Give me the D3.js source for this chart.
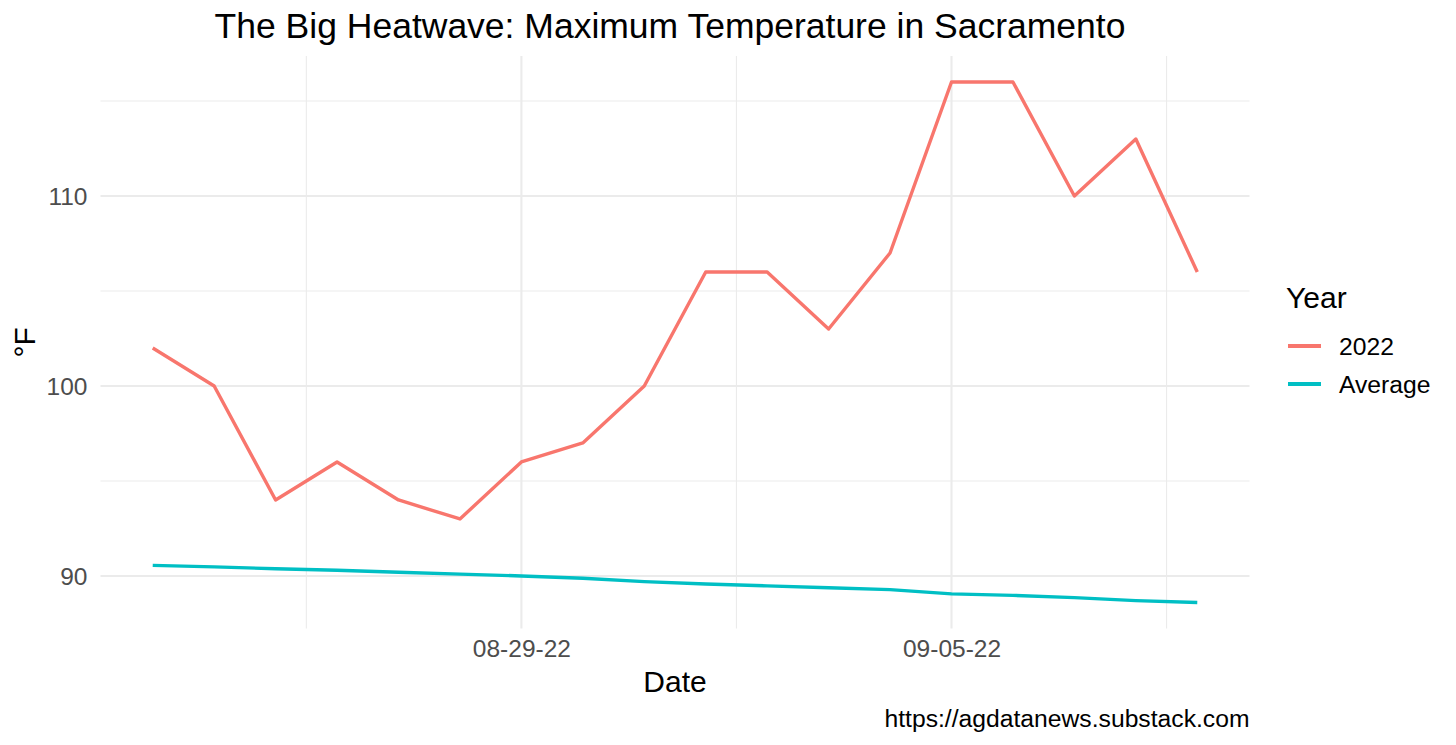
<!DOCTYPE html>
<html>
<head>
<meta charset="utf-8">
<script src="https://cdn.jsdelivr.net/npm/d3@7"></script>
<style>
  html, body { margin: 0; padding: 0; background: #fff; }
  svg { display: block; font-family: "Liberation Sans", Arial, sans-serif; }
</style>
</head>
<body>
<svg id="chart" width="1456" height="745"></svg>
<script>
const dates = ["2022-08-23","2022-08-24","2022-08-25","2022-08-26","2022-08-27","2022-08-28",
  "2022-08-29","2022-08-30","2022-08-31","2022-09-01","2022-09-02","2022-09-03",
  "2022-09-04","2022-09-05","2022-09-06","2022-09-07","2022-09-08","2022-09-09"];
const temps2022 = [102,100,94,96,94,93,96,97,100,106,106,103,107,116,116,110,113,106];
const tempsAverage = [90.56,90.48,90.38,90.3,90.2,90.1,90.0,89.88,89.7,89.58,89.48,89.38,89.28,89.06,88.98,88.86,88.7,88.6];
const seriesNames = ["2022","Average"];
const seriesColors = ["#F8766D","#00BFC4"];
const yMajorTicks = [90,100,110];
const yMinorTicks = [95,105,115];
const xMajorTicks = ["2022-08-29","2022-09-05"];
const xMinorTicks = ["2022-08-25T12:00","2022-09-01T12:00","2022-09-08T12:00"];

const parse = s => new Date(s + (s.length === 10 ? "T00:00" : ""));
const fmt = d3.timeFormat("%m-%d-%y");

const svg = d3.select("#chart");
const panel = {left: 100.5, right: 1249.5, top: 56, bottom: 628.6};

const xd = d3.extent(dates, parse);
const xspan = xd[1] - xd[0];
const x = d3.scaleTime()
  .domain([new Date(+xd[0] - 0.05 * xspan), new Date(+xd[1] + 0.05 * xspan)])
  .range([panel.left, panel.right]);

const allY = temps2022.concat(tempsAverage);
const ymin = d3.min(allY), ymax = d3.max(allY), yspan = ymax - ymin;
const y = d3.scaleLinear()
  .domain([ymin - 0.05 * yspan, ymax + 0.05 * yspan])
  .range([panel.bottom, panel.top]);

const grid = svg.append("g");
// minor grid
grid.selectAll(".ymin").data(yMinorTicks).enter().append("line")
  .attr("x1", panel.left).attr("x2", panel.right)
  .attr("y1", d => y(d)).attr("y2", d => y(d))
  .attr("stroke", "#EBEBEB").attr("stroke-width", 1.1);
grid.selectAll(".xmin").data(xMinorTicks).enter().append("line")
  .attr("y1", panel.top).attr("y2", panel.bottom)
  .attr("x1", d => x(parse(d))).attr("x2", d => x(parse(d)))
  .attr("stroke", "#EBEBEB").attr("stroke-width", 1.1);
// major grid
grid.selectAll(".ymaj").data(yMajorTicks).enter().append("line")
  .attr("x1", panel.left).attr("x2", panel.right)
  .attr("y1", d => y(d)).attr("y2", d => y(d))
  .attr("stroke", "#EBEBEB").attr("stroke-width", 2.1);
grid.selectAll(".xmaj").data(xMajorTicks).enter().append("line")
  .attr("y1", panel.top).attr("y2", panel.bottom)
  .attr("x1", d => x(parse(d))).attr("x2", d => x(parse(d)))
  .attr("stroke", "#EBEBEB").attr("stroke-width", 2.1);

// axes (text only)
const yAxis = d3.axisLeft(y).tickValues(yMajorTicks).tickSize(0).tickPadding(13);
const gy = svg.append("g").attr("transform", `translate(${panel.left},0)`).call(yAxis);
gy.select(".domain").remove();
gy.selectAll("text").attr("fill", "#4D4D4D").style("font-size", "24.5px")
  .style("font-family", "Liberation Sans, Arial, sans-serif").attr("dy", "0.36em");

const xAxis = d3.axisBottom(x).tickValues(xMajorTicks.map(parse)).tickFormat(fmt).tickSize(0).tickPadding(11);
const gx = svg.append("g").attr("transform", `translate(0,${panel.bottom})`).call(xAxis);
gx.select(".domain").remove();
gx.selectAll("text").attr("fill", "#4D4D4D").style("font-size", "24.5px")
  .style("font-family", "Liberation Sans, Arial, sans-serif");

// lines
const series = [temps2022, tempsAverage];
const line = d3.line().x((d, i) => x(parse(dates[i]))).y(d => y(d));
svg.selectAll(".series").data(series).enter().append("path")
  .attr("d", d => line(d))
  .attr("fill", "none")
  .attr("stroke", (d, i) => seriesColors[i])
  .attr("stroke-width", 3.4)
  .attr("stroke-linejoin", "round")
  .attr("stroke-linecap", "butt");

// titles
svg.append("text").attr("x", (panel.left + panel.right) / 2 - 5).attr("y", 38)
  .attr("text-anchor", "middle").style("font-size", "35.5px").attr("fill", "#000")
  .text("The Big Heatwave: Maximum Temperature in Sacramento");
svg.append("text").attr("x", (panel.left + panel.right) / 2).attr("y", 692)
  .attr("text-anchor", "middle").style("font-size", "30px").attr("fill", "#000")
  .text("Date");
svg.append("text").attr("transform", `translate(35,${(panel.top + panel.bottom) / 2}) rotate(-90)`)
  .attr("text-anchor", "middle").style("font-size", "30px").attr("fill", "#000")
  .text("°F");
svg.append("text").attr("x", panel.right).attr("y", 727)
  .attr("text-anchor", "end").style("font-size", "24.7px").attr("fill", "#000")
  .text("https://agdatanews.substack.com");

// legend
const lg = svg.append("g");
lg.append("text").attr("x", 1286).attr("y", 308).style("font-size", "30px").attr("fill", "#000").text("Year");
const items = lg.selectAll(".item").data(seriesNames).enter().append("g")
  .attr("transform", (d, i) => `translate(1288,${346 + i * 38})`);
items.append("line").attr("x1", 0).attr("x2", 33).attr("y1", 0).attr("y2", 0)
  .attr("stroke", (d, i) => seriesColors[i]).attr("stroke-width", 3.8);
items.append("text").attr("x", 51).attr("y", 0).attr("dy", "0.36em")
  .style("font-size", "24.7px").attr("fill", "#000").text(d => d);
</script>
</body>
</html>
